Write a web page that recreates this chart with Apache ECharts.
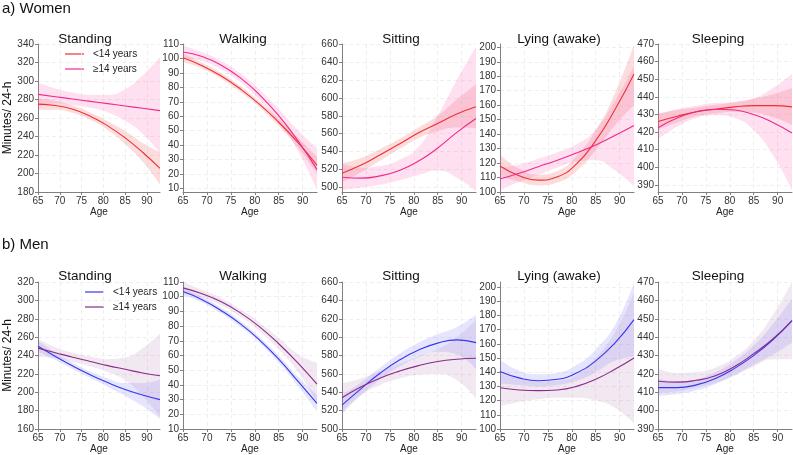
<!DOCTYPE html>
<html>
<head>
<meta charset="utf-8">
<script src="https://cdn.jsdelivr.net/npm/echarts@6/dist/echarts.min.js"></script>
<style>
  html, body { margin: 0; padding: 0; background: #fff; }
  #chart { width: 793px; height: 455px; }
</style>
</head>
<body>
<div id="chart"></div>
<script>
const ages = [65, 69, 73, 77, 81, 85, 89, 93];
const xTicks = [65, 70, 75, 80, 85, 90];
const panelTitles = ['Standing', 'Walking', 'Sitting', 'Lying (awake)', 'Sleeping'];
const groupNames = ['<14 years', '\u226514 years'];

// ---- Women ----
const wStandLt   = [275, 273.5, 269.5, 262, 251.5, 238.5, 223, 205.5];
const wStandLtLo = [269, 269, 265.5, 258, 247, 232, 213, 188];
const wStandLtHi = [281, 278.5, 273.5, 266, 256.5, 246, 233, 223];
const wStandGe   = [285.5, 283, 280.5, 278, 275.5, 273, 270.5, 268];
const wStandGeLo = [272, 276, 274, 271, 266, 257, 243, 222];
const wStandGeHi = [298, 292, 287.5, 285, 285, 291, 306, 326];

const wWalkLt   = [100.5, 95, 87.8, 78.8, 68.2, 55.8, 41.8, 26];
const wWalkLtLo = [97.5, 93, 85.8, 76.8, 66.2, 53.3, 38.3, 20];
const wWalkLtHi = [103.5, 97, 89.8, 80.8, 70.2, 58.3, 45.3, 32];
const wWalkGe   = [104.5, 101.3, 95.3, 86.5, 74.8, 60.4, 43.1, 23];
const wWalkGeLo = [100, 98.3, 92.3, 83.5, 71.3, 55.9, 36.1, 9];
const wWalkGeHi = [109, 104.3, 98.3, 89.5, 78.3, 64.9, 50.1, 38];

const wSitLt   = [516, 525, 536.5, 548.5, 561, 571.5, 582, 590];
const wSitLtLo = [506, 517, 530, 543, 555, 563, 567, 566];
const wSitLtHi = [527, 533, 543, 554, 567, 580, 598, 615];
const wSitGe   = [511.5, 510.5, 513, 519, 529.5, 544, 561.5, 577];
const wSitGeLo = [497, 500, 503, 508, 514, 519, 511, 496];
const wSitGeHi = [527, 522, 524, 531, 545, 580, 620, 657];

const wLieLt   = [118, 111.3, 108.2, 110.5, 119.5, 135.5, 156.8, 181.5];
const wLieLtLo = [111, 107, 104.5, 106.5, 114.5, 129, 146, 160];
const wLieLtHi = [126, 116, 112, 114.5, 125, 142.5, 168, 202];
const wLieGe   = [109, 113, 117.5, 122, 127, 132.5, 139, 146];
const wLieGeLo = [101, 107, 112, 117, 121, 122, 115, 104];
const wLieGeHi = [117, 119, 123, 127.5, 133, 143, 163, 187];

const wSleepLt   = [426, 429, 431.5, 433, 434.3, 435, 435, 434.3];
const wSleepLtLo = [421.5, 425.5, 429, 430.5, 431.5, 431, 428.5, 424];
const wSleepLtHi = [430.5, 432.5, 434, 435.5, 437, 439, 441.5, 445];
const wSleepGe   = [422.5, 428, 431.5, 433, 432.5, 430, 425.5, 419.5];
const wSleepGeLo = [416, 423, 428, 429.5, 428, 421, 407, 387];
const wSleepGeHi = [430, 433, 435, 436.5, 437, 439, 445, 453];

// ---- Men ----
const mStandLt   = [250, 239, 228.5, 219, 210.5, 203, 197, 192];
const mStandLtLo = [244, 235, 225, 215.5, 206, 196, 185, 171];
const mStandLtHi = [256, 243, 232, 222.5, 215, 210, 210, 214];
const mStandGe   = [248, 243, 238, 233.5, 229, 225, 221, 218];
const mStandGeLo = [239, 237, 233, 228, 222, 213, 196, 173];
const mStandGeHi = [258, 249, 243, 239, 236, 238, 248, 264];

const mWalkLt   = [103.5, 98, 90.5, 81.5, 70.5, 57.5, 42.5, 27.5];
const mWalkLtLo = [101, 96, 88.5, 79.5, 68.5, 55, 39.5, 22];
const mWalkLtHi = [106, 100, 92.5, 83.5, 72.5, 60, 45.5, 33];
const mWalkGe   = [106, 102, 96.5, 89, 79.5, 68, 55, 40.5];
const mWalkGeLo = [102, 99.5, 94, 86.5, 76.5, 64, 49, 28];
const mWalkGeHi = [110, 104.5, 99, 91.5, 82.5, 72, 61, 55];

const mSitLt   = [526, 544, 561, 575, 586, 593.5, 597, 594];
const mSitLtLo = [516, 537, 554, 568, 578, 584, 581, 565];
const mSitLtHi = [537, 551, 567, 582, 594, 603, 611, 624];
const mSitGe   = [534, 546, 555.5, 563, 569, 573.5, 576, 577];
const mSitGeLo = [519, 537, 548, 555, 559, 560, 553, 533];
const mSitGeHi = [550, 555, 563, 571, 579, 587, 600, 619];

const mLieLt   = [140.5, 136, 134, 135, 139.5, 148, 160.5, 177];
const mLieLtLo = [132, 131, 130, 131, 134, 140, 148, 151];
const mLieLtHi = [149, 141, 138.5, 139.5, 145, 156, 173, 203];
const mLieGe   = [129, 127.5, 127, 127.5, 130, 135, 142, 150];
const mLieGeLo = [116, 119, 121, 122, 122, 120, 115, 104];
const mLieGeHi = [141, 136, 133.5, 134, 138, 150, 168, 196];

const mSleepLt   = [412.5, 412.5, 414, 417.5, 423, 430, 438.5, 449];
const mSleepLtLo = [408, 409, 411, 414.5, 419.5, 425, 430.5, 437];
const mSleepLtHi = [417.5, 416, 417, 421, 427, 435.5, 447, 461];
const mSleepGe   = [416, 415.5, 416.5, 419, 424, 431, 439, 449];
const mSleepGeLo = [409.5, 410.5, 412.5, 415, 419, 424, 428, 428];
const mSleepGeHi = [423, 420.5, 421, 423.5, 429, 438, 452, 470];

// y tick labels and ranges per panel
const yTicksW = [
  [180, 200, 220, 240, 260, 280, 300, 320, 340],
  [10, 20, 30, 40, 50, 60, 70, 80, 90, 100, 110],
  [500, 520, 540, 560, 580, 600, 620, 640, 660],
  [100, 110, 120, 130, 140, 150, 160, 170, 180, 190, 200],
  [390, 400, 410, 420, 430, 440, 450, 460, 470]
];
const yTicksM = [
  [160, 180, 200, 220, 240, 260, 280, 300, 320],
  [10, 20, 30, 40, 50, 60, 70, 80, 90, 100, 110],
  [500, 520, 540, 560, 580, 600, 620, 640, 660],
  [100, 110, 120, 130, 140, 150, 160, 170, 180, 190, 200],
  [390, 400, 410, 420, 430, 440, 450, 460, 470]
];
const yMinW = [180, 7.5, 495, 100, 386];
const yMaxW = [340, 110, 660, 202.3, 470];
const yMinM = [160, 10, 500, 100, 390];
const yMaxM = [320, 110, 660, 203.5, 470];

const women = [
  [wStandLt, wStandLtLo, wStandLtHi, wStandGe, wStandGeLo, wStandGeHi],
  [wWalkLt, wWalkLtLo, wWalkLtHi, wWalkGe, wWalkGeLo, wWalkGeHi],
  [wSitLt, wSitLtLo, wSitLtHi, wSitGe, wSitGeLo, wSitGeHi],
  [wLieLt, wLieLtLo, wLieLtHi, wLieGe, wLieGeLo, wLieGeHi],
  [wSleepLt, wSleepLtLo, wSleepLtHi, wSleepGe, wSleepGeLo, wSleepGeHi]
];
const men = [
  [mStandLt, mStandLtLo, mStandLtHi, mStandGe, mStandGeLo, mStandGeHi],
  [mWalkLt, mWalkLtLo, mWalkLtHi, mWalkGe, mWalkGeLo, mWalkGeHi],
  [mSitLt, mSitLtLo, mSitLtHi, mSitGe, mSitGeLo, mSitGeHi],
  [mLieLt, mLieLtLo, mLieLtHi, mLieGe, mLieGeLo, mLieGeHi],
  [mSleepLt, mSleepLtLo, mSleepLtHi, mSleepGe, mSleepGeLo, mSleepGeHi]
];

const FONT = 'Liberation Sans, Arial, sans-serif';
const colors = [
  { lt: '#ee3030', ge: '#f0288c', ltBand: 'rgba(240,80,80,0.2)', geBand: 'rgba(250,100,180,0.2)' },
  { lt: '#3636ee', ge: '#8a2a8a', ltBand: 'rgba(100,100,250,0.17)', geBand: 'rgba(170,100,170,0.15)' }
];

const gridLeft = [38, 183, 342, 500, 658];
const gridWidth = [122, 134, 134, 134, 134];
const rowTop = [44, 282];
const rowHeight = [148, 147];
const titleX = [80, 238, 396, 554, 713];
const titleTop = [27, 264];

let grids = [], xAxes = [], yAxes = [], series = [], titles = [];

// bands: invisible lower edge + stacked (hi - lo) area
function addBand(idx, lo, hi, color) {
  let stack = 'band' + idx + '_' + series.length;
  series.push({
    type: 'line', xAxisIndex: 2 * idx + 1, yAxisIndex: idx, stack: stack,
    data: lo, smooth: true, symbol: 'none', silent: true,
    lineStyle: { opacity: 0 }
  });
  series.push({
    type: 'line', xAxisIndex: 2 * idx + 1, yAxisIndex: idx, stack: stack,
    data: hi.map((v, i) => v - lo[i]), smooth: true, symbol: 'none', silent: true,
    lineStyle: { opacity: 0 }, areaStyle: { color: color, opacity: 1 }
  });
}

function addLine(idx, vals, color, name) {
  series.push({
    type: 'line', name: name, xAxisIndex: 2 * idx + 1, yAxisIndex: idx,
    data: vals, smooth: true, symbol: 'none', silent: true,
    lineStyle: { color: color, width: 1.1 }, z: 5
  });
}

[women, men].forEach((rowData, row) => {
  rowData.forEach((p, col) => {
    let idx = row * 5 + col;
    let c = colors[row];
    grids.push({ left: gridLeft[col], top: rowTop[row], width: gridWidth[col], height: rowHeight[row] });
    titles.push({
      text: panelTitles[col], left: titleX[col], top: titleTop[row], textAlign: 'center',
      textStyle: { fontSize: 13.5, fontWeight: 'normal', color: '#111', fontFamily: FONT }
    });
    // visible age axis
    xAxes.push({
      type: 'value', gridIndex: idx, min: 65, max: 93,
      name: 'Age', nameLocation: 'middle', nameGap: 14,
      nameTextStyle: { fontSize: 10, color: '#222', fontFamily: FONT },
      axisLine: { lineStyle: { color: '#808080' } },
      axisTick: { length: 3, customValues: xTicks, lineStyle: { color: '#808080' } },
      axisLabel: { fontSize: 10, color: '#333', margin: 4, customValues: xTicks, fontFamily: FONT },
      splitLine: { show: true, lineStyle: { color: '#ebebeb', type: [4, 3], width: 0.8 } }
    });
    // hidden category axis the curves are drawn on (same 65..93 span)
    xAxes.push({
      type: 'category', gridIndex: idx, data: ages, boundaryGap: false, show: false
    });
    let ticks = row === 0 ? yTicksW[col] : yTicksM[col];
    let yAx = {
      type: 'value', gridIndex: idx,
      min: row === 0 ? yMinW[col] : yMinM[col],
      max: row === 0 ? yMaxW[col] : yMaxM[col],
      axisLine: { show: true, lineStyle: { color: '#808080' } },
      axisTick: { show: true, length: 3, customValues: ticks, lineStyle: { color: '#808080' } },
      axisLabel: { fontSize: 10, color: '#333', margin: 4, customValues: ticks, fontFamily: FONT },
      splitLine: { show: true, lineStyle: { color: '#ebebeb', type: [4, 3], width: 0.8 } }
    };
    if (col === 0) {
      yAx.name = 'Minutes/ 24-h';
      yAx.nameLocation = 'middle';
      yAx.nameGap = 24;
      yAx.nameTextStyle = { fontSize: 12, color: '#111', fontFamily: FONT };
    }
    yAxes.push(yAx);
    addBand(idx, p[1], p[2], c.ltBand);
    addBand(idx, p[4], p[5], c.geBand);
    addLine(idx, p[0], c.lt, groupNames[0]);
    addLine(idx, p[3], c.ge, groupNames[1]);
  });
});

// hand-placed legends and section labels
function legendItems(x, y, row) {
  let out = [];
  groupNames.forEach((n, i) => {
    let yy = y + i * 15;
    let col = i === 0 ? colors[row].lt : colors[row].ge;
    out.push({ type: 'line', shape: { x1: x, y1: yy, x2: x + 19, y2: yy }, style: { stroke: col, lineWidth: 1.2 } });
    out.push({ type: 'text', x: x + 28, y: yy, style: { text: n, fontSize: 10, fill: '#222', verticalAlign: 'middle', fontFamily: FONT } });
  });
  return out;
}

const graphic = [
  { type: 'text', left: 2, top: 1, style: { text: 'a) Women', fontSize: 15, fill: '#111', fontFamily: FONT } },
  { type: 'text', left: 2, top: 237, style: { text: 'b) Men', fontSize: 15, fill: '#111', fontFamily: FONT } }
].concat(legendItems(65, 54, 0), legendItems(85, 292, 1));

const chart = echarts.init(document.getElementById('chart'));
chart.setOption({
  animation: false,
  backgroundColor: '#fff',
  title: titles,
  grid: grids,
  xAxis: xAxes,
  yAxis: yAxes,
  series: series,
  graphic: graphic
});
</script>
</body>
</html>
